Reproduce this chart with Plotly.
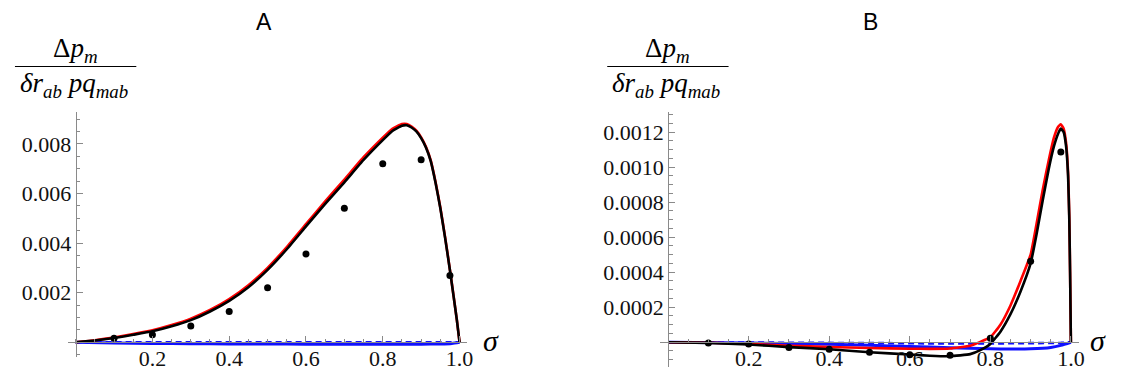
import plotly.graph_objects as go

WIN_W, WIN_H = 1121, 379
OFF = 8  # default body margin of the html page
W, H = WIN_W - 2 * OFF, WIN_H - 2 * OFF

# ---------------- data ----------------
sigma_curve_A = [0, 0.05, 0.1, 0.15, 0.2, 0.25, 0.3, 0.35, 0.4, 0.45, 0.5, 0.55, 0.6, 0.65,
                 0.7, 0.75, 0.8, 0.825, 0.85, 0.8625, 0.875, 0.8875, 0.9, 0.9125, 0.925,
                 0.9375, 0.95, 0.9625, 0.975, 0.985, 0.993, 1.0]
black_A = [0, 0.00007, 0.00017, 0.0003, 0.00044, 0.00064, 0.00089, 0.00124, 0.00167, 0.00222,
           0.00292, 0.00375, 0.00467, 0.00558, 0.00645, 0.00735, 0.00815, 0.00852, 0.00873,
           0.00875, 0.00866, 0.0085, 0.00823, 0.00785, 0.0073, 0.00643, 0.0054, 0.0042,
           0.0029, 0.0018, 0.0009, 0]
red_A = [0, 0.00008, 0.00019, 0.00033, 0.00048, 0.00069, 0.00095, 0.0013, 0.00174, 0.0023,
         0.003, 0.00384, 0.00476, 0.00568, 0.00656, 0.00746, 0.00825, 0.00861, 0.0088,
         0.0088, 0.0087, 0.00853, 0.00826, 0.00788, 0.00733, 0.00646, 0.00543, 0.00423,
         0.00292, 0.00181, 0.0009, 0]
sigma_blue_A = [0, 0.1, 0.2, 0.3, 0.4, 0.5, 0.6, 0.7, 0.8, 0.9, 0.95, 0.98, 1.0]
blue_solid_A = [0, -0.00003, -0.00005, -0.00006, -0.00007, -0.00007, -0.00008, -0.00008,
                -0.00008, -0.00008, -0.00007, -0.00005, 0]
blue_dash_A = [0, -0.000003, -0.000005, -0.000006, -0.000007, -0.000008, -0.000008, -0.000008,
               -0.000008, -0.000008, -0.000006, -0.000004, 0]
sigma_dots = [0.1, 0.2, 0.3, 0.4, 0.5, 0.6, 0.7, 0.8, 0.9, 0.975]
dots_A = [0.00016, 0.0003, 0.00065, 0.00124, 0.0022, 0.00356, 0.0054, 0.0072, 0.00736, 0.00269]

sigma_curve_B = [0, 0.1, 0.2, 0.3, 0.4, 0.5, 0.6, 0.65, 0.7, 0.75, 0.775, 0.8, 0.825, 0.85,
                 0.875, 0.9, 0.915, 0.93, 0.945, 0.958, 0.968, 0.975, 0.982, 0.988, 0.993,
                 0.996, 0.998, 1.0]
black_B = [0, -0.000004, -0.000013, -0.000028, -0.00004, -0.000057, -0.00007, -0.000077,
           -0.00008, -0.000068, -0.000045, -0.00001, 0.00006, 0.00016, 0.00029, 0.00045,
           0.00062, 0.00081, 0.00099, 0.00112, 0.00119, 0.00122, 0.0012, 0.00112, 0.00095,
           0.0007, 0.0004, 0]
red_B = [0, -0.000003, -0.00001, -0.00002, -0.000027, -0.000033, -0.000037, -0.000038,
         -0.000036, -0.00002, 0.000002, 0.000028, 0.0001, 0.00021, 0.00035, 0.0005,
         0.00068, 0.00087, 0.00104, 0.00117, 0.00123, 0.001245, 0.00122, 0.00114, 0.00097,
         0.00072, 0.0004, 0]
sigma_blue_B = [0, 0.2, 0.4, 0.5, 0.6, 0.7, 0.8, 0.85, 0.9, 0.95, 0.975, 1.0]
blue_solid_B = [0, -0.000004, -0.000012, -0.000018, -0.000025, -0.000031, -0.000037,
                -0.000039, -0.000038, -0.00003, -0.000018, 0]
blue_dash_B = [0, -0.000003, -0.000005, -0.000006, -0.000006, -0.000007, -0.000007,
               -0.000007, -0.000007, -0.000006, -0.000004, 0]
dots_B = [-0.000004, -0.00001, -0.00003, -0.00004, -0.000057, -0.000072, -0.000075,
          0.000023, 0.000463, 0.001086]

x_ticks = [0.2, 0.4, 0.6, 0.8, 1.0]
x_ticktext = ["0.2", "0.4", "0.6", "0.8", "1.0"]
y_ticks_A = [0.002, 0.004, 0.006, 0.008]
y_ticktext_A = ["0.002", "0.004", "0.006", "0.008"]
y_ticks_B = [0.0002, 0.0004, 0.0006, 0.0008, 0.0010, 0.0012]
y_ticktext_B = ["0.0002", "0.0004", "0.0006", "0.0008", "0.0010", "0.0012"]
panel_titles = ["A", "B"]

# ---------------- layout geometry (window pixels) ----------------
def clamp(v):
    return min(1.0, max(0.0, v))

def px_x(p):
    return (p - OFF) / W

def px_y(p):
    return 1 - (p - OFF) / H

x_range = [-0.02, 1.02]
A_x0, A_sx = 76, 386
A_y0, A_sy = 345, 25000
A_yrange = [-0.0006, 0.00929]
B_x0, B_sx = 671.7, 405
B_y0, B_sy = 345, 176500
B_yrange = [-0.000144, 0.001316]

def dom_x(x0, sx):
    return [clamp(px_x(x0 + x_range[0] * sx)), clamp(px_x(x0 + x_range[1] * sx))]

def dom_y(y0, sy, yr):
    return [clamp(px_y(y0 - yr[0] * sy)), clamp(px_y(y0 - yr[1] * sy))]

fig = go.Figure()

LW = 2.6
def add_panel(xa, ya, sc, bl, rd, sb, bs, bd, dots):
    fig.add_trace(go.Scatter(x=sb, y=bs, mode="lines", xaxis=xa, yaxis=ya,
                             line=dict(color="#1010ff", width=3, shape="spline", smoothing=0.6),
                             showlegend=False))
    fig.add_trace(go.Scatter(x=sb, y=bd, mode="lines", xaxis=xa, yaxis=ya,
                             line=dict(color="#1010ff", width=LW, dash="6px,4px"), showlegend=False))
    fig.add_trace(go.Scatter(x=sc, y=rd, mode="lines", xaxis=xa, yaxis=ya,
                             line=dict(color="#ff0000", width=LW, shape="spline", smoothing=0.4),
                             showlegend=False))
    fig.add_trace(go.Scatter(x=sc, y=bl, mode="lines", xaxis=xa, yaxis=ya,
                             line=dict(color="#000000", width=LW, shape="spline", smoothing=0.4),
                             showlegend=False))
    fig.add_trace(go.Scatter(x=sigma_dots, y=dots, mode="markers", xaxis=xa, yaxis=ya,
                             marker=dict(color="black", size=7), showlegend=False))

add_panel("x", "y", sigma_curve_A, black_A, red_A, sigma_blue_A, blue_solid_A, blue_dash_A, dots_A)
add_panel("x2", "y2", sigma_curve_B, black_B, red_B, sigma_blue_B, blue_solid_B, blue_dash_B, dots_B)

AX = "#8a8a8a"
TICKFONT = dict(family="Liberation Serif", size=22, color="#111")

def xaxis(x0, sx, ypos):
    return dict(domain=dom_x(x0, sx), range=x_range, anchor="free", position=ypos,
                showline=True, linecolor=AX, linewidth=1, showgrid=False, zeroline=False,
                tickmode="array", tickvals=x_ticks, ticktext=x_ticktext, ticks="inside",
                ticklen=6, tickcolor=AX, tickwidth=1, tickfont=TICKFONT,
                ticklabelstandoff=-4,
                minor=dict(tickmode="linear", tick0=0, dtick=0.05, ticks="inside", ticklen=3.5,
                           tickcolor=AX, tickwidth=1, showgrid=False),
                fixedrange=True)

def yaxis(yd, yr, xpos, tv, tt, minor_dt):
    return dict(domain=yd, range=yr, anchor="free", position=xpos,
                showline=True, linecolor=AX, linewidth=1, showgrid=False, zeroline=False,
                tickmode="array", tickvals=tv, ticktext=tt, ticks="inside",
                ticklen=6, tickcolor=AX, tickwidth=1, tickfont=TICKFONT,
                minor=dict(tickmode="linear", tick0=0, dtick=minor_dt, ticks="inside",
                           ticklen=3.5, tickcolor=AX, tickwidth=1, showgrid=False),
                fixedrange=True)

fig.update_layout(
    width=W, height=H, margin=dict(l=0, r=0, t=0, b=0),
    paper_bgcolor="white", plot_bgcolor="white",
    xaxis=xaxis(A_x0, A_sx, px_y(A_y0)),
    yaxis=yaxis(dom_y(A_y0, A_sy, A_yrange), A_yrange, px_x(A_x0), y_ticks_A, y_ticktext_A, 0.0005),
    xaxis2=xaxis(B_x0, B_sx, px_y(B_y0)),
    yaxis2=yaxis(dom_y(B_y0, B_sy, B_yrange), B_yrange, px_x(B_x0), y_ticks_B, y_ticktext_B, 0.00005),
)

ann = []
LABFONT = dict(family="Liberation Serif", size=27, color="black")
for title, tx, fx in [(panel_titles[0], 265, 76), (panel_titles[1], 875, 671.5)]:
    ann.append(dict(text=title, x=px_x(tx), y=px_y(22), xref="paper", yref="paper",
                    showarrow=False, xanchor="center", yanchor="middle",
                    font=dict(family="Liberation Sans", size=23, color="black")))
    ann.append(dict(text="Δ<i>p</i><sub><i>m</i></sub>", x=px_x(fx), y=px_y(50),
                    xref="paper", yref="paper", showarrow=False, xanchor="center",
                    yanchor="middle", font=LABFONT))
    ann.append(dict(text="<i>δr</i><sub><i>ab</i></sub> <i>pq</i><sub><i>mab</i></sub>",
                    x=px_x(fx - 2), y=px_y(86), xref="paper", yref="paper", showarrow=False,
                    xanchor="center", yanchor="middle", font=LABFONT))
for sx_ in [494, 1104]:
    ann.append(dict(text="<i>σ</i>", x=px_x(sx_), y=px_y(343), xref="paper", yref="paper",
                    showarrow=False, xanchor="center", yanchor="middle",
                    font=dict(family="Liberation Serif", size=30, color="black")))
fig.update_layout(annotations=ann)

for fx in [76, 671.5]:
    fig.add_shape(type="line", xref="paper", yref="paper",
                  x0=px_x(fx - 61), x1=px_x(fx + 61), y0=px_y(67), y1=px_y(67),
                  line=dict(color="black", width=1.2))

fig.write_html("out.html")
